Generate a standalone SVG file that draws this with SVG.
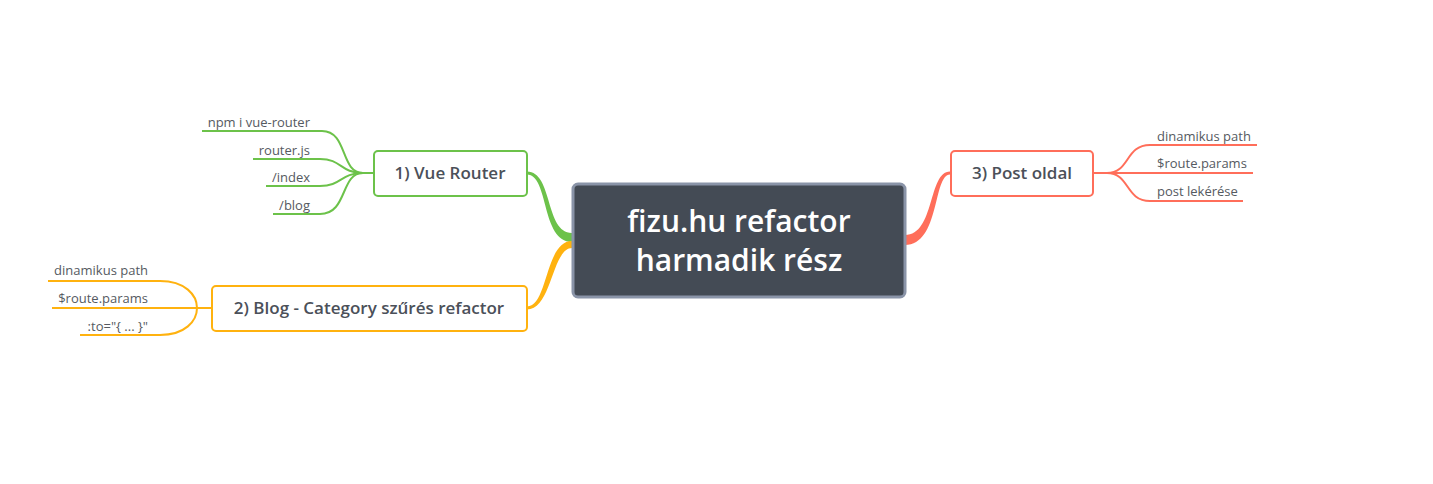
<svg xmlns="http://www.w3.org/2000/svg" width="1433" height="484" viewBox="0 0 1433 484">
<style>
.node{fill:#fff;stroke-width:2}
.lbl{font-family:"Open Sans","Liberation Sans",sans-serif;font-size:17px;font-weight:600;fill:#4b5059;text-anchor:middle}
.sub{font-family:"Open Sans","Liberation Sans",sans-serif;font-size:13px;fill:#555a61}
.g{stroke:#6cc24a}
.o{stroke:#ffb20f}
.r{stroke:#ff6e5a}
.br{fill:none;stroke-width:2}
</style>
<rect width="1433" height="484" fill="#fff"/>
<g id="connectors">
  <path d="M527,171.5 C553,171.5 545,233 572,233 L572,242 C541,242 549,174.5 527,174.5 Z" fill="#6cc24a"/>
  <path d="M527,306.5 C548,306.5 545,241 572,241 L572,248 C552,248 552,309.5 527,309.5 Z" fill="#ffb20f"/>
  <path d="M905,235 C935,235 928,171.5 950,171.5 L950,174.5 C933,174.5 940,245 905,245 Z" fill="#ff6e5a"/>
  <g class="br g">
    <path d="M202,131 L322,131 C348,131 340,173 363,173 L373,173"/>
    <path d="M253,159 L320,159 C342,159 340,173 363,173"/>
    <path d="M266,186 L320,186 C342,186 340,173 363,173"/>
    <path d="M273,214 L320,214 C348,214 340,173 363,173"/>
  </g>
  <g class="br o">
    <path d="M48,281 L160,281 C185,281 197,295 197,308"/>
    <path d="M52,308 L211,308"/>
    <path d="M80,335 L160,335 C185,335 197,321 197,308"/>
  </g>
  <g class="br r">
    <path d="M1093,173 L1107,173 C1130,173 1125,145 1150,145 L1257,145"/>
    <path d="M1093,173 L1253,173"/>
    <path d="M1107,173 C1130,173 1125,201 1150,201 L1243,201"/>
  </g>
</g>
<g id="central">
  <rect x="573" y="184" width="332" height="113" rx="5" fill="#444b55" stroke="#8a94a8" stroke-width="3"/>
  <text x="739" y="232" font-family="'Open Sans','Liberation Sans',sans-serif" font-size="30" font-weight="600" fill="#fff" text-anchor="middle">fizu.hu refactor</text>
  <text x="739" y="271" font-family="'Open Sans','Liberation Sans',sans-serif" font-size="30" font-weight="600" fill="#fff" text-anchor="middle">harmadik rész</text>
</g>
<g id="vue-router">
  <rect class="node g" x="374" y="151" width="153" height="45" rx="4"/>
  <text class="lbl" x="450" y="179">1) Vue Router</text>
</g>
<g id="blog">
  <rect class="node o" x="212" y="286" width="315" height="45" rx="4"/>
  <text class="lbl" x="369" y="314">2) Blog - Category szűrés refactor</text>
</g>
<g id="post">
  <rect class="node r" x="951" y="151" width="142" height="45" rx="4"/>
  <text class="lbl" x="1022" y="179">3) Post oldal</text>
</g>
<g id="vue-children">
  <text class="sub" x="310" y="127" text-anchor="end">npm i vue-router</text>
  <text class="sub" x="310" y="155" text-anchor="end">router.js</text>
  <text class="sub" x="310" y="182" text-anchor="end">/index</text>
  <text class="sub" x="310" y="210" text-anchor="end">/blog</text>
</g>
<g id="blog-children">
  <text class="sub" x="148" y="275" text-anchor="end">dinamikus path</text>
  <text class="sub" x="148" y="303" text-anchor="end">$route.params</text>
  <text class="sub" x="148" y="331" text-anchor="end">:to="{ ... }"</text>
</g>
<g id="post-children">
  <text class="sub" x="1157" y="141">dinamikus path</text>
  <text class="sub" x="1157" y="168">$route.params</text>
  <text class="sub" x="1157" y="196">post lekérése</text>
</g>
</svg>
